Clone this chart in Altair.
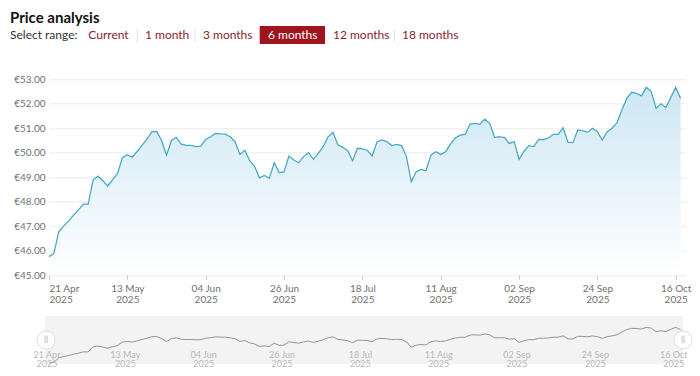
import json
import altair as alt
import pandas as pd

# ---------------- data ----------------
prices = [
    45.75, 45.88, 46.77, 47.00, 47.20, 47.45, 47.65, 47.90, 47.90, 48.88,
    49.04, 48.85, 48.64, 48.90, 49.15, 49.80, 49.92, 49.82, 50.05, 50.30,
    50.55, 50.85, 50.87, 50.50, 49.90, 50.50, 50.63, 50.35, 50.30, 50.30,
    50.25, 50.27, 50.54, 50.65, 50.79, 50.77, 50.76, 50.65, 50.45, 49.93,
    50.10, 49.67, 49.43, 48.97, 49.07, 48.95, 49.59, 49.19, 49.21, 49.86,
    49.70, 49.59, 49.84, 50.00, 49.73, 49.97, 50.25, 50.65, 50.83, 50.32,
    50.22, 50.08, 49.67, 50.18, 50.16, 50.10, 49.87, 50.45, 50.52, 50.45,
    50.29, 50.34, 50.29, 49.84, 48.81, 49.22, 49.32, 49.26, 49.90, 50.04,
    49.93, 50.04, 50.35, 50.61, 50.72, 50.75, 51.17, 51.20, 51.16, 51.37,
    51.20, 50.63, 50.65, 50.63, 50.38, 50.45, 49.73, 50.05, 50.29, 50.25,
    50.54, 50.54, 50.60, 50.75, 50.75, 51.02, 50.42, 50.41, 50.93, 50.90,
    50.83, 51.00, 50.86, 50.52, 50.86, 51.00, 51.22, 51.75, 52.22, 52.47,
    52.43, 52.32, 52.67, 52.50, 51.81, 52.00, 51.85, 52.26, 52.67, 52.22,
]
tick_labels = ["21 Apr", "13 May", "04 Jun", "26 Jun", "18 Jul",
               "11 Aug", "02 Sep", "24 Sep", "16 Oct"]
tick_year = "2025"
tick_step = 16
y_ticks = [45, 46, 47, 48, 49, 50, 51, 52, 53]
y_floor = 45
title_text = "Price analysis"
range_label = "Select range:"
range_options = ["Current", "1 month", "3 months", "6 months", "12 months", "18 months"]
selected_option = "6 months"

# ---------------- frames ----------------
df = pd.DataFrame({"i": list(range(len(prices))), "price": prices})
tick_idx = [k * tick_step for k in range(len(tick_labels))]
ticks_df = pd.DataFrame({"i": tick_idx,
                         "label": [f"{l}\n{tick_year}" for l in tick_labels]})
one = pd.DataFrame({"k": [0]})

# ---------------- layout (plot-area pixel coords) ----------------
W, H = 637, 195.7
FONT = "Lato"
RED = "#8c2232"

label_expr = f"[{json.dumps(tick_labels)}[round(datum.value / {tick_step})], '{tick_year}']"

x_enc = alt.X(
    "i:Q",
    scale=alt.Scale(domain=[0, 130.1], nice=False, zero=False),
    axis=alt.Axis(values=tick_idx, labelExpr=label_expr, title=None, grid=False,
                  domain=False, tickSize=4, tickColor="#c8c8c8",
                  labelColor="#707070", labelFontSize=10, labelFont=FONT,
                  labelPadding=4, labelAngle=0, labelOverlap=False,
                  labelBaseline="top", labelLineHeight=11, labelBound=False),
)
y_enc = alt.Y(
    "price:Q",
    scale=alt.Scale(domain=[45, 53], nice=False, zero=False),
    axis=alt.Axis(values=y_ticks, labelExpr="'€' + format(datum.value, '.2f')",
                  title=None, domain=False, ticks=False, gridColor="#ebebeb",
                  labelColor="#707070", labelFontSize=10, labelFont=FONT,
                  labelPadding=4),
)

area = alt.Chart(df).mark_area(
    color=alt.Gradient(
        gradient="linear",
        stops=[alt.GradientStop(color="#ffffff", offset=0),
               alt.GradientStop(color="#cde7f4", offset=1)],
        x1=1, x2=1, y1=1, y2=0,
    )
).encode(x=x_enc, y=y_enc, y2=alt.datum(y_floor))
line = alt.Chart(df).mark_line(color="#4aa9c4", strokeWidth=1.3).encode(x=x_enc, y=y_enc)
main = alt.layer(area, line)

# navigator
nav_band = alt.Chart(one).mark_rect(color="#f3f3f3").encode(
    x=alt.value(-4), x2=alt.value(634), y=alt.value(236.7), y2=alt.value(284.7))
nav_line = alt.Chart(df).mark_line(color="#939393", strokeWidth=1).encode(
    x=x_enc,
    y=alt.Y("price:Q",
            scale=alt.Scale(domain=[min(prices), max(prices)], range=[283.7, 248],
                            nice=False, zero=False),
            axis=None))
nav_ticks = alt.Chart(ticks_df).mark_text(
    lineBreak="\n", fontSize=9, font=FONT, color="#b8b8b8", baseline="alphabetic",
    lineHeight=9.5, dx=-2).encode(x=x_enc, y=alt.value(278.5), text="label:N")

handles = []
for hx in (-3, 634):
    handles.append(alt.Chart(one).mark_circle(
        size=330, fill="#ffffff", stroke="#dcdcdc", strokeWidth=1, opacity=1
    ).encode(x=alt.value(hx), y=alt.value(260.7)))
    handles.append(alt.Chart(one).mark_text(
        text="||", fontSize=8, font=FONT, color="#9a9a9a", baseline="middle"
    ).encode(x=alt.value(hx), y=alt.value(260.7)))

# header
header = [
    alt.Chart(one).mark_text(text=title_text, fontSize=15, fontWeight="bold",
                             font=FONT, color="#111111", align="left",
                             baseline="alphabetic").encode(
        x=alt.value(-39), y=alt.value(-56.3)),
    alt.Chart(one).mark_text(text=range_label, fontSize=12, font=FONT,
                             color="#333333", align="left",
                             baseline="alphabetic").encode(
        x=alt.value(-39), y=alt.value(-40.3)),
    alt.Chart(one).mark_rect(color="#a0151d").encode(
        x=alt.value(210.7), x2=alt.value(276), y=alt.value(-53.3), y2=alt.value(-35.3)),
]
button_x = [39.3, 96, 154, 219, 284, 353]
for opt, bx in zip(range_options, button_x):
    header.append(alt.Chart(one).mark_text(
        text=opt, fontSize=12, font=FONT,
        color="#ffffff" if opt == selected_option else RED,
        align="left", baseline="alphabetic").encode(
        x=alt.value(bx), y=alt.value(-40.3)))
for sx in (88.3, 146, 345.3):
    header.append(alt.Chart(one).mark_rule(color="#e2e2e2", strokeWidth=1).encode(
        x=alt.value(sx), y=alt.value(-50.3), y2=alt.value(-37.3)))

chart = alt.layer(main, nav_band, nav_line, nav_ticks, *handles, *header).resolve_scale(
    y="independent"
).properties(
    width=W, height=H,
    padding={"left": 41, "top": 71.3, "right": 6, "bottom": 93},
    autosize=alt.AutoSizeParams(type="none"),
).configure_view(stroke=None)

chart.save("out.html", embed_options={"renderer": "svg", "actions": False})
